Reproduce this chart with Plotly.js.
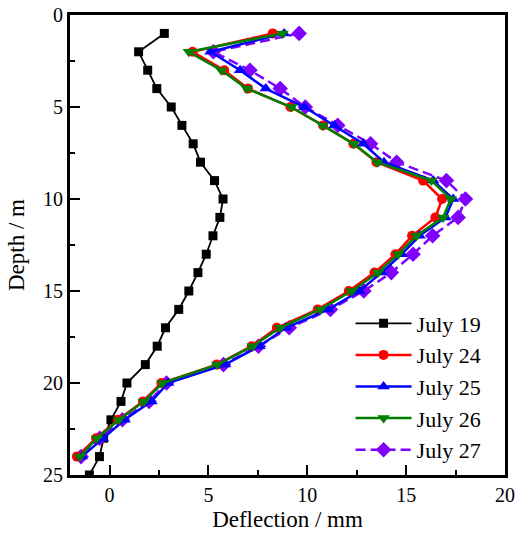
<!DOCTYPE html>
<html>
<head>
<meta charset="utf-8">
<script src="https://cdn.plot.ly/plotly-3.0.1.min.js"></script>
<style>html,body{margin:0;padding:0;background:#fff;}#chart{width:523px;height:550px;}</style>
</head>
<body>
<div id="chart"></div>
<script>
const depthBlack = [1,2,3,4,5,6,7,8,9,10,11,12,13,14,15,16,17,18,19,20,21,22,23,24,25];
const depthColor = [1,2,3,4,5,6,7,8,9,10,11,12,13,14,15,16,17,18,19,20,21,22,23,24];

const july19 = [2.77,1.47,1.93,2.39,3.12,3.66,4.23,4.60,5.31,5.74,5.58,5.23,4.89,4.47,4.01,3.50,2.83,2.41,1.81,0.88,0.58,0.07,-0.30,-0.51,-1.02];
const july24 = [8.25,4.20,5.80,7.00,9.15,10.80,12.33,13.50,15.86,16.82,16.48,15.30,14.46,13.40,12.10,10.53,8.46,7.19,5.42,2.62,1.69,0.43,-0.68,-1.65];
const july25 = [8.83,5.11,6.60,7.90,9.85,11.37,12.83,13.88,16.37,17.38,16.99,15.68,14.78,13.76,12.64,11.07,8.92,7.58,5.84,2.96,2.12,0.76,-0.34,-1.40];
const july26 = [8.75,4.01,5.65,6.94,9.20,10.78,12.35,13.54,16.28,17.26,16.87,15.52,14.60,13.58,12.25,10.66,8.63,7.24,5.45,2.68,1.74,0.48,-0.64,-1.50];
const july27 = [9.59,5.25,7.10,8.63,9.90,11.54,13.20,14.52,17.04,18.00,17.63,16.34,15.35,14.25,12.86,11.17,9.09,7.53,5.76,2.88,2.00,0.65,-0.50,-1.44];

const names = ['July 19','July 24','July 25','July 26','July 27'];
const xTicks = [0,5,10,15,20];
const yTicks = [0,5,10,15,20,25];

function tr(x, y, name, color, symbol, size, width, dash, rank) {
  return {
    x: x, y: y, name: name, type: 'scatter', mode: 'lines+markers',
    line: {color: color, width: width, dash: dash},
    marker: {color: color, symbol: symbol, size: size, line: {width: 0}},
    legendrank: rank
  };
}

const data = [
  tr(july19, depthBlack, names[0], '#000000', 'square', 9, 1.8, 'solid', 1),
  tr(july27, depthColor, names[4], '#8000FF', 'diamond', 12, 2.5, '10px,5px', 5),
  tr(july24, depthColor, names[1], '#FF0000', 'circle', 10, 2.5, 'solid', 2),
  tr(july25, depthColor, names[2], '#0000FF', 'triangle-up', 11, 2.5, 'solid', 3),
  tr(july26, depthColor, names[3], '#008000', 'triangle-down', 11, 2.5, 'solid', 4)
];

const font = 'Liberation Serif';
const layout = {
  width: 523, height: 550,
  margin: {l: 70, r: 18, t: 15, b: 75},
  paper_bgcolor: '#fff', plot_bgcolor: '#fff',
  font: {family: font, color: '#000', size: 20},
  showlegend: true,
  legend: {
    x: 0.645, y: 0.375, xanchor: 'left', yanchor: 'top',
    bgcolor: 'rgba(0,0,0,0)', borderwidth: 0,
    font: {family: font, size: 22, color: '#000'},
    itemwidth: 56, tracegroupgap: 0
  },
  xaxis: {
    range: [-2, 20], tickvals: xTicks, ticktext: xTicks.map(String),
    showgrid: false, zeroline: false,
    showline: true, linecolor: '#000', linewidth: 3, mirror: true,
    ticks: 'inside', ticklen: 10, tickwidth: 2, tickcolor: '#000',
    minor: {dtick: 2.5, tick0: 0, ticks: 'inside', ticklen: 5, tickwidth: 2, tickcolor: '#000', showgrid: false},
    tickfont: {family: font, size: 20},
    title: {text: 'Deflection / mm', font: {family: font, size: 23}, standoff: 6}
  },
  yaxis: {
    range: [25, 0], tickvals: yTicks, ticktext: yTicks.map(String),
    showgrid: false, zeroline: false,
    showline: true, linecolor: '#000', linewidth: 3, mirror: true,
    ticks: 'inside', ticklen: 10, tickwidth: 2, tickcolor: '#000',
    minor: {dtick: 2.5, tick0: 0, ticks: 'inside', ticklen: 5, tickwidth: 2, tickcolor: '#000', showgrid: false},
    tickfont: {family: font, size: 20},
    title: {text: 'Depth / m', font: {family: font, size: 23}, standoff: 12}
  }
};

Plotly.newPlot('chart', data, layout, {displayModeBar: false, staticPlot: true});
</script>
</body>
</html>
